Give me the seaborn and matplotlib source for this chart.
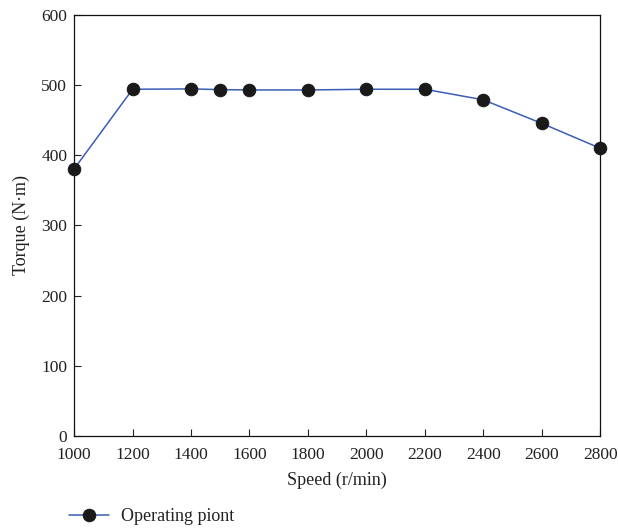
import matplotlib
matplotlib.use("Agg")
import matplotlib.pyplot as plt
import seaborn as sns
import pandas as pd

speed = [1000, 1200, 1400, 1500, 1600, 1800, 2000, 2200, 2400, 2600, 2800]
torque = [380.5, 494, 494.5, 493.5, 493, 493, 494, 494, 479, 445.5, 410]
series_label = "Operating piont"

sns.set_theme(style="ticks")
plt.rcParams['font.family'] = ['Liberation Serif', 'DejaVu Serif']

df = pd.DataFrame({"Speed": speed, "Torque": torque, "series": series_label})

fig = plt.figure(figsize=(6.18, 5.31), dpi=100)
ax = fig.add_axes([0.12, 0.179, 0.851, 0.793])
sns.lineplot(data=df, x="Speed", y="Torque", hue="series", palette=["#3b5db5"],
             marker="o", markersize=9, markerfacecolor="#1a1a1a",
             markeredgecolor="#1a1a1a", linewidth=1.1, ax=ax, clip_on=False, zorder=3)

ax.set_xlim(1000, 2800)
ax.set_ylim(0, 600)
ax.set_xticks(range(1000, 2801, 200))
ax.set_yticks(range(0, 601, 100))
ax.tick_params(direction="in", length=5, width=0.8, labelsize=12.5, colors="#222222")
ax.tick_params(axis="x", pad=8)
ax.tick_params(axis="y", pad=5)
for s in ax.spines.values():
    s.set_linewidth(0.9)
    s.set_color("#111111")
ax.set_xlabel("Speed (r/min)", fontsize=13, color="#222222", labelpad=6)
ax.set_ylabel("Torque (N·m)", fontsize=13, color="#222222", labelpad=8)

ax.legend_.remove()
h, l = ax.get_legend_handles_labels()
leg = fig.legend(h, l, loc="lower left", bbox_to_anchor=(0.085, -0.02), frameon=False,
                 fontsize=13, handlelength=2.2, handletextpad=0.7)
for t in leg.get_texts():
    t.set_color("#222222")

fig.savefig("out.png", dpi=100)
